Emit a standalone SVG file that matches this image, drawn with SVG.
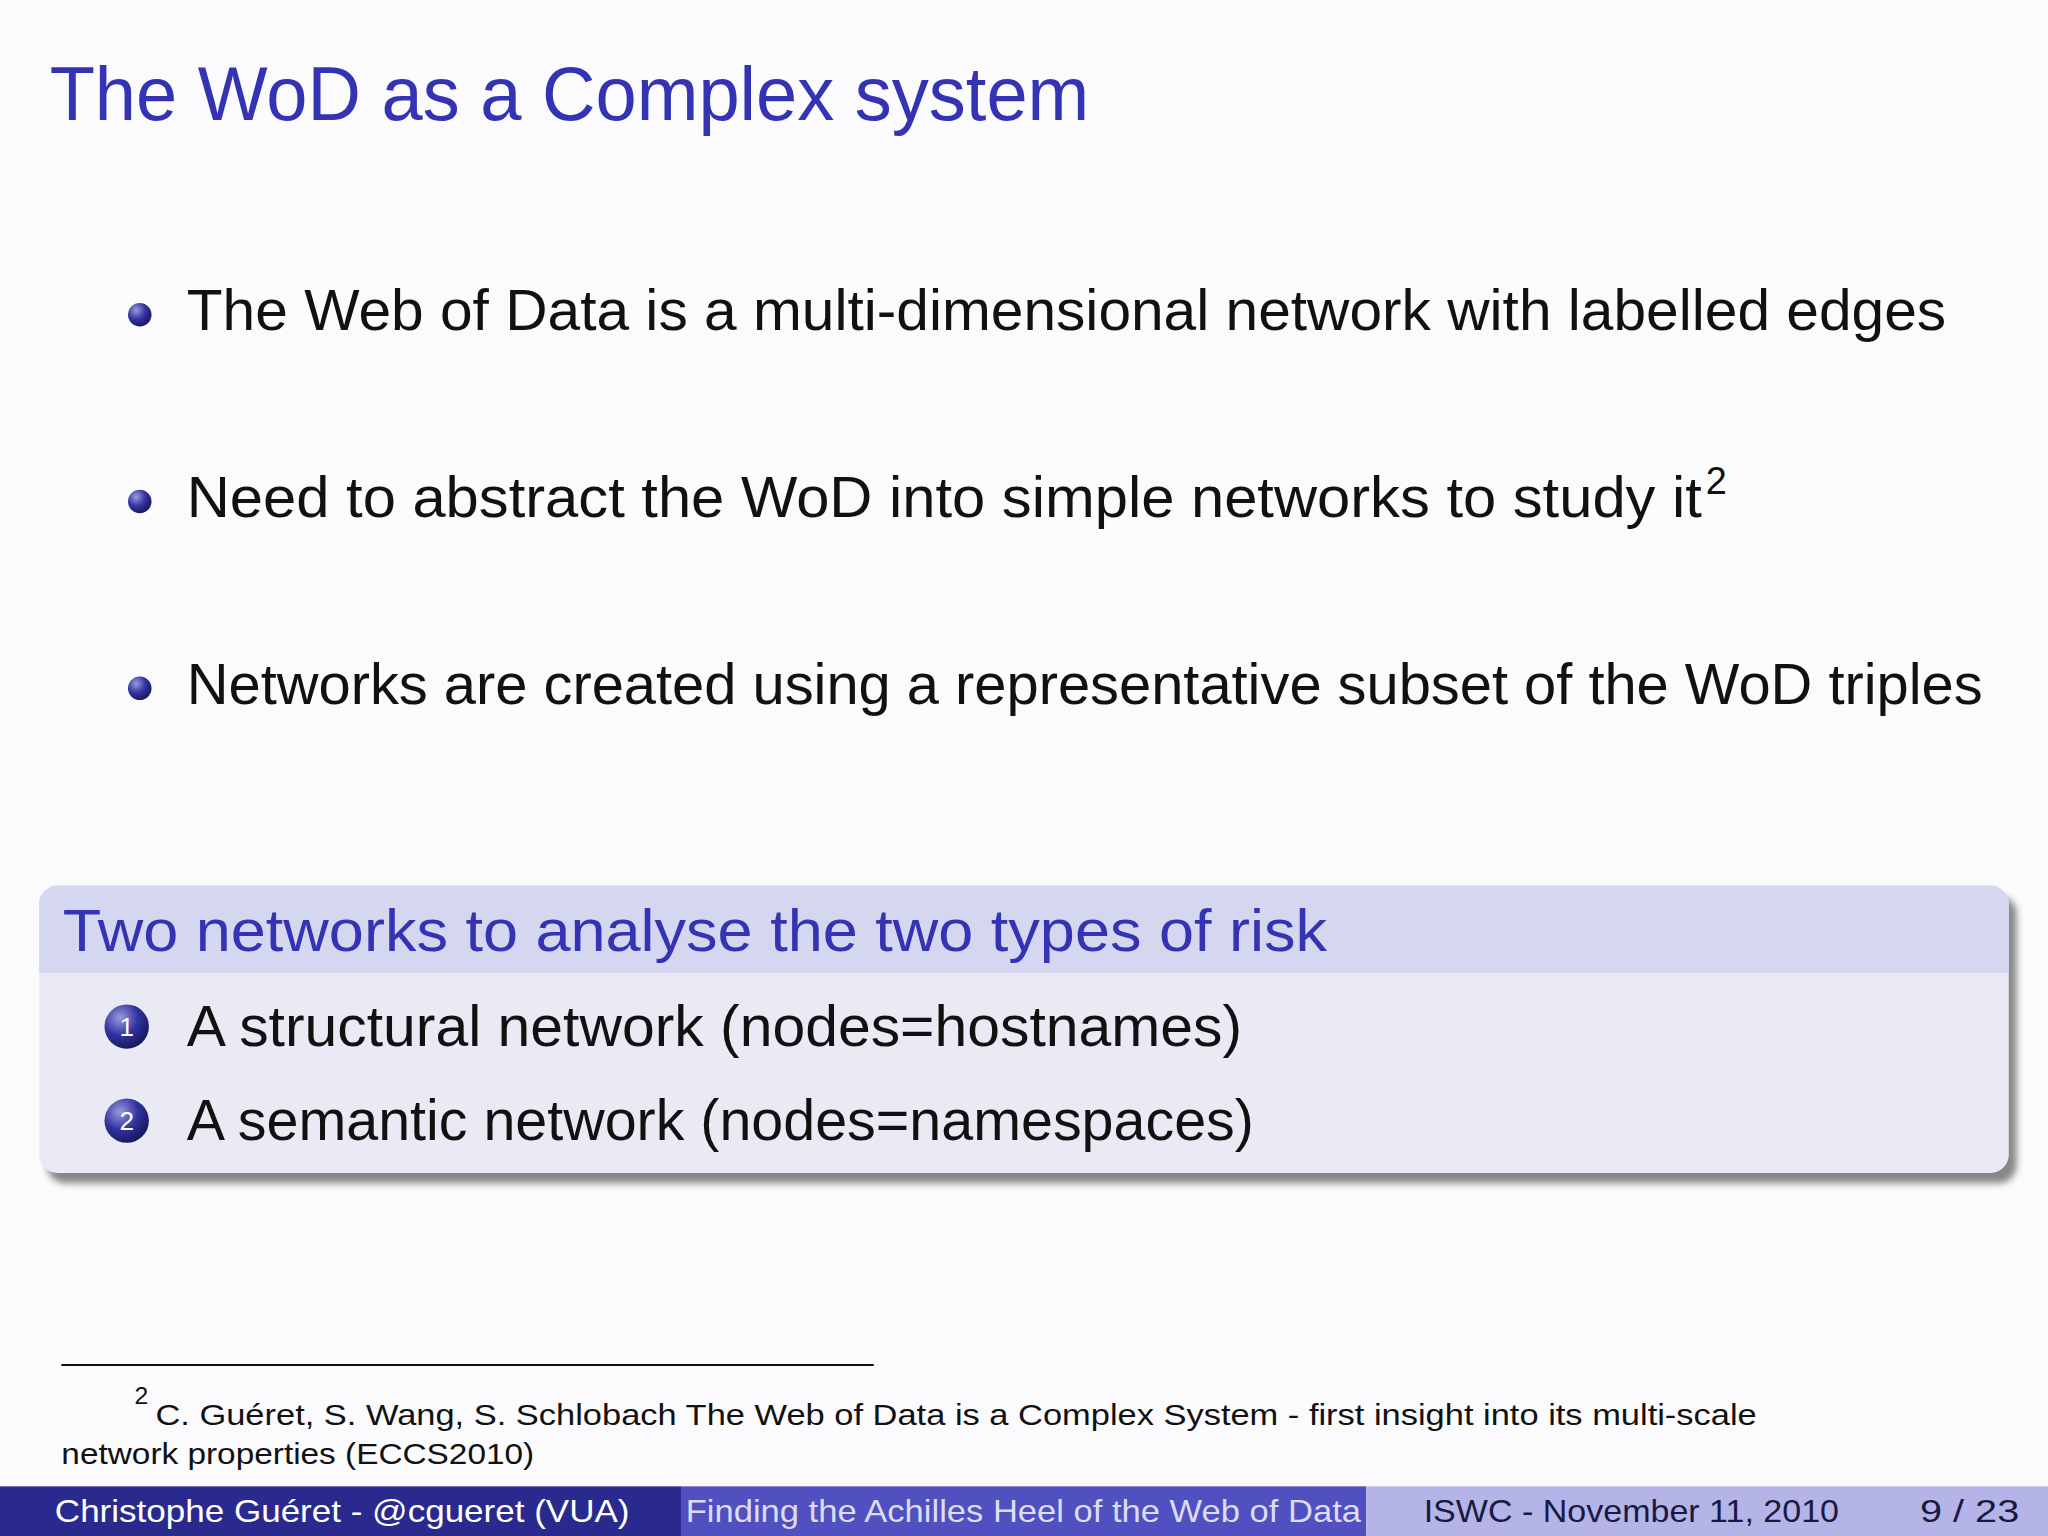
<svg xmlns="http://www.w3.org/2000/svg" width="2048" height="1536" viewBox="0 0 2048 1536">
<defs>
<radialGradient id="ball" cx="0.35" cy="0.3" r="0.8"><stop offset="0" stop-color="#9a9ae0"/><stop offset="0.5" stop-color="#3333a0"/><stop offset="1" stop-color="#111150"/></radialGradient>
<filter id="sh" x="-5%" y="-5%" width="110%" height="120%"><feGaussianBlur stdDeviation="3"/></filter>
</defs>
<style>
text{font-family:"Liberation Sans","DejaVu Sans",sans-serif}
.t{fill:#3333b3}
.b{fill:#111;font-size:44px}
.f{fill:#111;font-size:23px}
.ft{font-size:24px}
</style>
<rect width="2048" height="1536" fill="#fbfbfd"/>
<g transform="scale(1.30612)">
<g id="title"><text class="t" x="38" y="92" font-size="58" textLength="796" lengthAdjust="spacingAndGlyphs">The WoD as a Complex system</text></g>
<g id="bullets">
<circle cx="107" cy="241" r="9" fill="url(#ball)"/>
<text class="b" x="143" y="253" textLength="1347" lengthAdjust="spacingAndGlyphs">The Web of Data is a multi-dimensional network with labelled edges</text>
<circle cx="107" cy="384" r="9" fill="url(#ball)"/>
<text class="b" x="143" y="396" textLength="1160" lengthAdjust="spacingAndGlyphs">Need to abstract the WoD into simple networks to study it</text>
<text x="1306" y="378" font-size="29" fill="#111">2</text>
<circle cx="107" cy="527" r="9" fill="url(#ball)"/>
<text class="b" x="143" y="539" textLength="1375" lengthAdjust="spacingAndGlyphs">Networks are created using a representative subset of the WoD triples</text>
</g>
<g id="block">
<rect x="36" y="686" width="1508" height="220" rx="14" fill="#555" opacity="0.7" filter="url(#sh)"/>
<rect x="30" y="678" width="1508" height="220" rx="14" fill="#eaeaf5"/>
<path d="M30 745 V692 a14 14 0 0 1 14 -14 H1524 a14 14 0 0 1 14 14 V745 Z" fill="#d5d7f1"/>
<text class="t" x="48" y="728" font-size="46" textLength="968" lengthAdjust="spacingAndGlyphs">Two networks to analyse the two types of risk</text>
<circle cx="97" cy="786" r="17" fill="url(#ball)"/>
<text x="97" y="793" font-size="20" fill="#fff" text-anchor="middle">1</text>
<text class="b" x="143" y="801" textLength="808" lengthAdjust="spacingAndGlyphs">A structural network (nodes=hostnames)</text>
<circle cx="97" cy="858" r="17" fill="url(#ball)"/>
<text x="97" y="865" font-size="20" fill="#fff" text-anchor="middle">2</text>
<text class="b" x="143" y="873" textLength="817" lengthAdjust="spacingAndGlyphs">A semantic network (nodes=namespaces)</text>
</g>
<g id="footnote">
<line x1="47" y1="1045" x2="669" y2="1045" stroke="#111" stroke-width="1.5"/>
<text x="103" y="1075" font-size="19" fill="#111">2</text>
<text class="f" x="119" y="1091" textLength="1226" lengthAdjust="spacingAndGlyphs">C. Guéret, S. Wang, S. Schlobach The Web of Data is a Complex System - first insight into its multi-scale</text>
<text class="f" x="47" y="1121" textLength="362" lengthAdjust="spacingAndGlyphs">network properties (ECCS2010)</text>
</g>
<g id="footer">
<rect x="0" y="1138" width="522" height="38" fill="#2a2a8e"/>
<rect x="522" y="1138" width="524" height="38" fill="#5050c0"/>
<rect x="1046" y="1138" width="522" height="38" fill="#b4b4e8"/>
<text class="ft" x="42" y="1165" fill="#fff" textLength="440" lengthAdjust="spacingAndGlyphs">Christophe Guéret - @cgueret (VUA)</text>
<text class="ft" x="525" y="1165" fill="#dcdcf5" textLength="517" lengthAdjust="spacingAndGlyphs">Finding the Achilles Heel of the Web of Data</text>
<text class="ft" x="1090" y="1165" fill="#1a1a40" textLength="318" lengthAdjust="spacingAndGlyphs">ISWC - November 11, 2010</text>
<text class="ft" x="1470" y="1165" fill="#1a1a40" textLength="76" lengthAdjust="spacingAndGlyphs">9 / 23</text>
</g>
</g>
</svg>
